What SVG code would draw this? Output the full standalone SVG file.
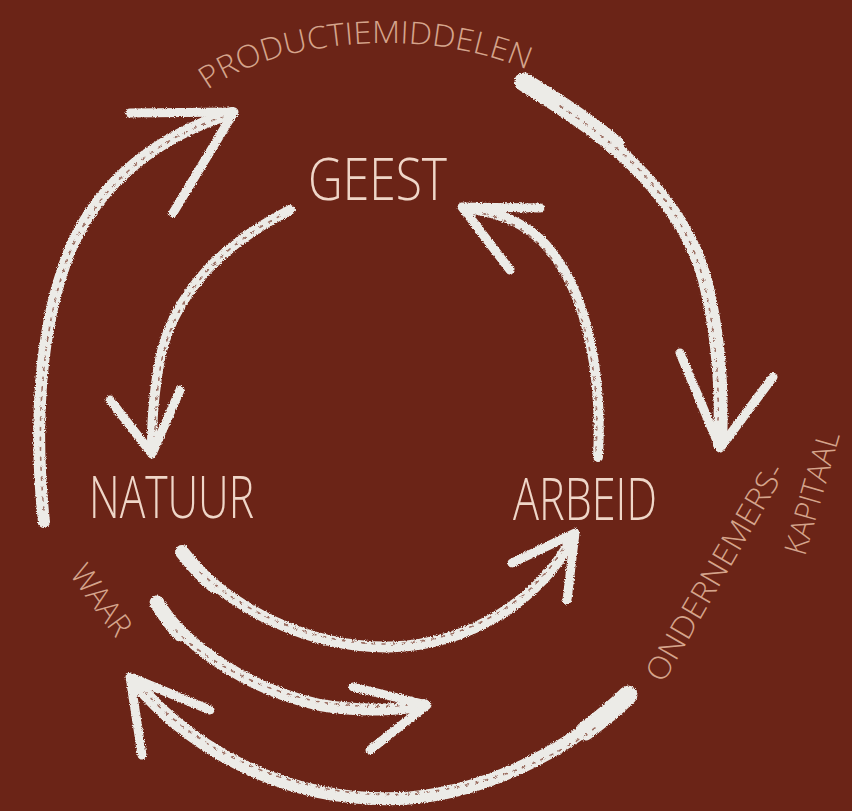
<svg xmlns="http://www.w3.org/2000/svg" width="852" height="811" viewBox="0 0 852 811">
  <defs>
    <style>
      .main { font-family: "Open Sans", "Liberation Sans", sans-serif; font-weight: 300; font-size: 58px; fill: #efd6c8; }
      .small { font-family: "Open Sans", "Liberation Sans", sans-serif; font-weight: 300; font-size: 31px; fill: #d5a48c; }
      .shaft { fill: none; stroke: #ecebe7; stroke-linecap: round; stroke-linejoin: round; }
      .barb { fill: none; stroke: #ecebe7; stroke-width: 9; stroke-linecap: round; stroke-linejoin: round; }
      .grain { fill: none; stroke: #7a3a2c; stroke-width: 1.6; stroke-dasharray: 3 7; stroke-linecap: round; opacity: 0.7; }
    </style>
    <filter id="chalk" x="-10%" y="-10%" width="120%" height="120%">
      <feTurbulence type="fractalNoise" baseFrequency="0.9" numOctaves="2" seed="4" result="n"/>
      <feDisplacementMap in="SourceGraphic" in2="n" scale="3.5" xChannelSelector="R" yChannelSelector="G"/>
    </filter>
    <path id="arcProd" d="M 205,92 C 270,42 420,22 532,72"/>
  </defs>

  <rect x="0" y="0" width="852" height="811" fill="#6b2417"/>

  <g id="connectors" filter="url(#chalk)">
    <g id="arrow-outer-left">
      <path class="shaft" stroke-width="12" d="M 44,522 C 34,430 38,330 70,250 C 100,180 160,135 232,113"/>
      <path class="grain" d="M 44,510 C 36,430 40,330 70,252 C 100,182 160,137 225,116"/>
      <path class="barb" d="M 130,113 L 234,112 L 173,213"/>
    </g>
    <g id="arrow-geest-natuur">
      <path class="shaft" stroke-width="10" d="M 290,210 C 230,240 170,290 158,370 C 152,410 152,430 152,450"/>
      <path class="grain" d="M 280,216 C 226,244 172,292 160,370 C 155,410 155,425 155,440"/>
      <path class="barb" d="M 110,400 L 152,454 L 180,390"/>
    </g>
    <g id="arrow-outer-right">
      <path class="shaft" stroke-width="19" d="M 524,82 C 560,104 590,124 615,145"/>
      <path class="shaft" stroke-width="14" d="M 522,80 C 600,130 680,190 705,280 C 720,340 722,400 720,444"/>
      <path class="grain" d="M 560,106 C 615,142 682,196 704,282 C 717,340 719,390 718,420"/>
      <path class="barb" d="M 680,353 L 720,448 L 773,377"/>
    </g>
    <g id="arrow-arbeid-geest">
      <path class="shaft" stroke-width="10" d="M 598,457 C 602,380 590,300 550,250 C 530,225 500,212 465,208"/>
      <path class="grain" d="M 596,450 C 600,380 588,304 548,254 C 528,230 505,218 480,213"/>
      <path class="barb" d="M 540,208 L 462,207 L 510,270"/>
    </g>
    <g id="arrow-natuur-arbeid">
      <path class="shaft" stroke-width="14" d="M 182,552 C 192,565 202,576 214,586"/>
      <path class="shaft" stroke-width="11" d="M 182,552 C 230,610 310,648 390,647 C 470,645 540,600 573,537"/>
      <path class="grain" d="M 200,572 C 245,614 315,645 390,644 C 468,642 535,600 565,545"/>
      <path class="barb" d="M 512,563 L 575,533 L 567,600"/>
    </g>
    <g id="arrow-waar-right">
      <path class="shaft" stroke-width="15" d="M 157,603 C 164,614 171,624 180,634"/>
      <path class="shaft" stroke-width="12" d="M 157,603 C 190,650 250,690 320,705 C 360,712 400,710 424,705"/>
      <path class="grain" d="M 175,630 C 205,660 258,690 320,702 C 360,708 395,707 415,704"/>
      <path class="barb" d="M 353,687 L 427,705 L 370,750"/>
    </g>
    <g id="arrow-bottom-outer">
      <path class="shaft" stroke-width="19" d="M 628,695 C 615,708 600,720 585,731"/>
      <path class="shaft" stroke-width="13" d="M 628,695 C 580,740 500,790 410,798 C 300,805 200,760 133,680"/>
      <path class="grain" d="M 595,728 C 560,755 495,786 410,794 C 305,800 205,758 145,692"/>
      <path class="barb" d="M 210,710 L 130,677 L 142,755"/>
    </g>
  </g>

  <g id="node-geest">
    <text class="main" x="308" y="200" textLength="139" lengthAdjust="spacingAndGlyphs">GEEST</text>
  </g>
  <g id="node-natuur">
    <text class="main" x="89" y="518" textLength="165" lengthAdjust="spacingAndGlyphs">NATUUR</text>
  </g>
  <g id="node-arbeid">
    <text class="main" x="513" y="520" textLength="144" lengthAdjust="spacingAndGlyphs">ARBEID</text>
  </g>

  <g id="label-productiemiddelen">
    <text class="small"><textPath href="#arcProd" startOffset="3" textLength="332" lengthAdjust="spacingAndGlyphs">PRODUCTIEMIDDELEN</textPath></text>
  </g>
  <g id="label-ondernemers">
    <text class="small" transform="translate(663,684) rotate(-60)" x="0" y="0" textLength="246" lengthAdjust="spacingAndGlyphs">ONDERNEMERS-</text>
  </g>
  <g id="label-kapitaal">
    <text class="small" transform="translate(805,557) rotate(-74)" x="0" y="0" textLength="127" lengthAdjust="spacingAndGlyphs">KAPITAAL</text>
  </g>
  <g id="label-waar">
    <text class="small" transform="translate(69,574) rotate(54)" x="0" y="0" textLength="80" lengthAdjust="spacingAndGlyphs">WAAR</text>
  </g>
</svg>
